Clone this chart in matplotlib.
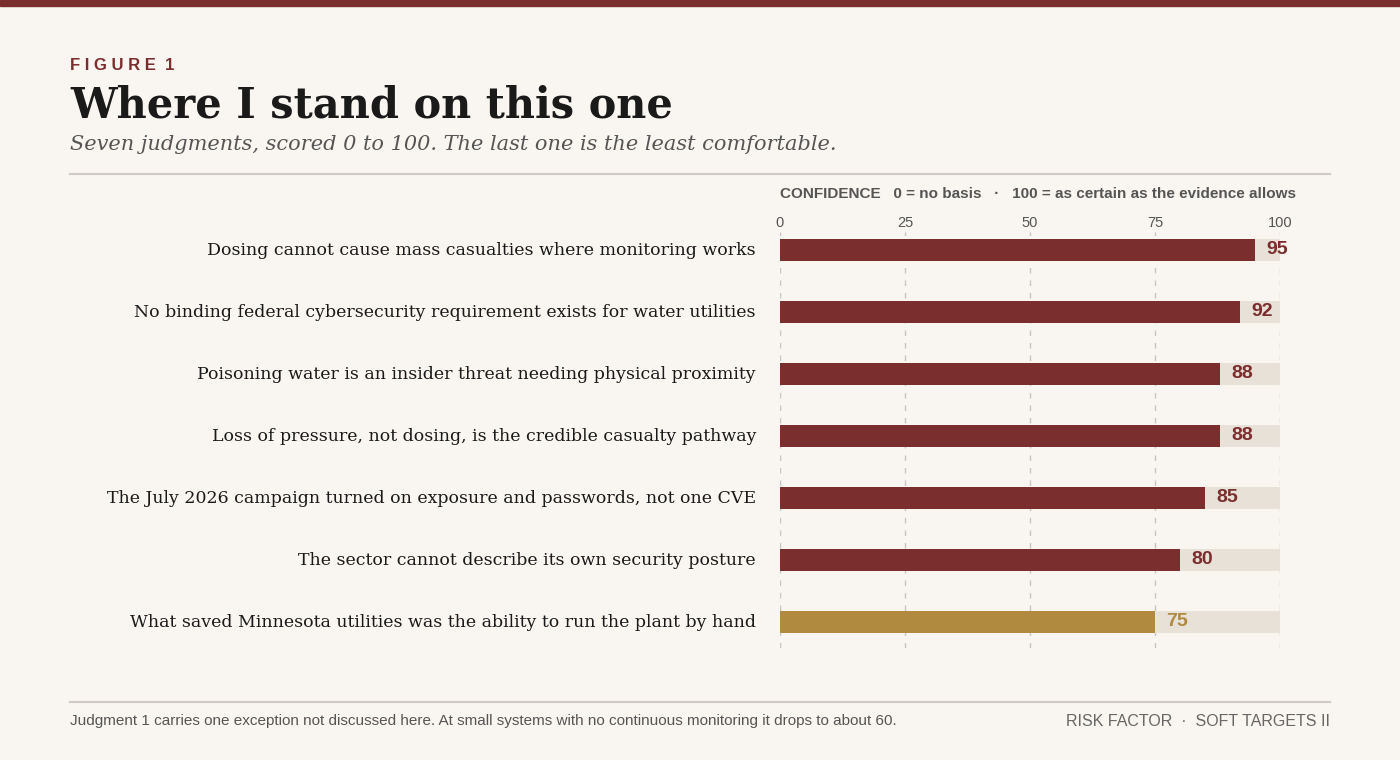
import matplotlib
matplotlib.use("Agg")
import matplotlib.pyplot as plt

# Chart data
judgments = [
    "Dosing cannot cause mass casualties where monitoring works",
    "No binding federal cybersecurity requirement exists for water utilities",
    "Poisoning water is an insider threat needing physical proximity",
    "Loss of pressure, not dosing, is the credible casualty pathway",
    "The July 2026 campaign turned on exposure and passwords, not one CVE",
    "The sector cannot describe its own security posture",
    "What saved Minnesota utilities was the ability to run the plant by hand",
]
confidence = [95, 92, 88, 88, 85, 80, 75]
ticks = [0, 25, 50, 75, 100]

BG = "#f9f6f1"
RED = "#7a2e2e"
GOLD = "#b08a3e"
TRACK = "#e8e1d8"
GREY = "#555555"
SERIF = "DejaVu Serif"
SANS = "Liberation Sans"

W, H = 1400, 760
fig = plt.figure(figsize=(W / 100, H / 100), dpi=100, facecolor=BG)


def fx(px):
    return px / W


def fy(py):
    return 1 - py / H


# top band
fig.patches.append(plt.Rectangle((0, fy(6)), 1, 6 / H, transform=fig.transFigure,
                                 color=RED, zorder=5))

fig.text(fx(70), fy(65), "F I G U R E  1", color=RED, fontsize=12, fontweight="bold",
         family=SANS, va="center", ha="left")
fig.text(fx(70), fy(105), "Where I stand on this one", color="#1a1a1a", fontsize=29.9,
         fontweight="bold", family=SERIF, va="center", ha="left")
fig.text(fx(70), fy(144), "Seven judgments, scored 0 to 100. The last one is the least comfortable.",
         color=GREY, fontsize=15, style="italic", family=SERIF, va="center", ha="left")

# rules
for yy in (174, 702):
    fig.add_artist(plt.Line2D([fx(70), fx(1330)], [fy(yy), fy(yy)], color="#cfcac4",
                              lw=1.5, transform=fig.transFigure))

fig.text(fx(780), fy(194),
         "CONFIDENCE   0 = no basis   \u00b7   100 = as certain as the evidence allows",
         color=GREY, fontsize=11, fontweight="bold", family=SANS, va="center", ha="left")

# bar axes: x 780..1280 px, y 232..648 px
ax = fig.add_axes([fx(780), fy(648), fx(1280) - fx(780), (648 - 232) / H])
ax.set_facecolor("none")
n = len(judgments)
ypos = list(range(n))
colors = [RED] * (n - 1) + [GOLD]

for t in ticks:
    ax.axvline(t, color="#c9c4bd", lw=1, ls=(0, (4, 5)), zorder=0)

ax.barh(ypos, [100] * n, height=0.34, color=TRACK, zorder=1)
ax.barh(ypos, confidence, height=0.34, color=colors, zorder=2)

for y, v, c, lab in zip(ypos, confidence, colors, judgments):
    ax.text(v + 2.2, y, str(v), color=c, fontsize=14, fontweight="bold", family=SANS,
            va="center", ha="left", zorder=3)
    ax.annotate(lab, xy=(0, y), xytext=(-24, -1), textcoords="offset pixels",
                ha="right", va="center", fontsize=12.5, family=SERIF, color="#1a1a1a")

ax.set_xlim(0, 100)
ax.set_ylim(n - 1 + 0.42, -0.29)
ax.set_xticks(ticks)
ax.xaxis.tick_top()
ax.tick_params(axis="x", length=0, pad=1.5, labelsize=10.5, labelcolor=GREY)
for lbl in ax.get_xticklabels():
    lbl.set_family(SANS)
ax.set_yticks([])
for s in ax.spines.values():
    s.set_visible(False)

fig.text(fx(70), fy(721),
         "Judgment 1 carries one exception not discussed here. At small systems with no continuous monitoring it drops to about 60.",
         color=GREY, fontsize=11, family=SANS, va="center", ha="left")
fig.text(fx(1330), fy(721), "RISK FACTOR  \u00b7  SOFT TARGETS II", color="#666666",
         fontsize=11.5, family=SANS, va="center", ha="right")

fig.savefig("out.png", dpi=100, facecolor=BG)
